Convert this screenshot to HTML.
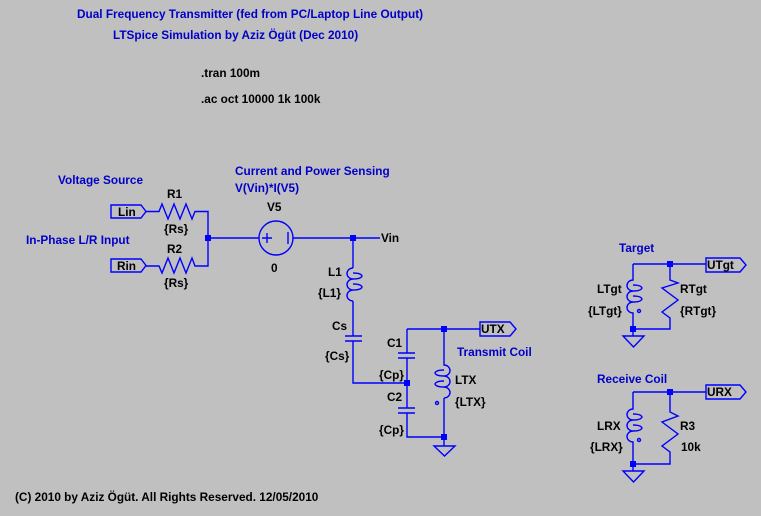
<!DOCTYPE html><html><head><style>body{margin:0;background:#c0c0c0}svg{display:block}text{font-family:"Liberation Sans",sans-serif;font-weight:bold;font-size:11.8px}.b{fill:#0000c8}.k{fill:#000}</style></head><body>
<svg width="761" height="516" viewBox="0 0 761 516">
<rect width="761" height="516" fill="#c0c0c0"/>
<g stroke="#0000ff" stroke-width="1.4" fill="none">
<path d="M111,205H141L146,211.5L141,218H111Z"/>
<path d="M111,259H141L146,265.5L141,272H111Z"/>
<path d="M146,211.5H159L162,204L168,219L174,204L180,219L186,204L192,219L195,211.5H208V266H195L192,258L186,273L180,258L174,273L168,258L162,273L159,266H146"/>
<path d="M208,238H259"/>
<circle cx="276" cy="238" r="17"/>
<path d="M262,238H272M267,233V243M288,232V244"/>
<path d="M293,238H380"/>
<path d="M353,238V268"/>
<path d="M353,268A6,5.5 0 0 0 353,279A6,5.5 0 0 0 353,290A6,5.5 0 0 0 353,301"/>
<path d="M353,273Q361,273 362,276Q361,279 353,279M353,284Q361,284 362,287Q361,290 353,290"/>
<path d="M353,301V336M345,336H362M345,341H362M353,341V383H407"/>
<path d="M407,329V353M398,353H415M398,358H415M407,358V408M398,408H415M398,413H415M407,413V437H444"/>
<path d="M407,329H480M480,322H510L516,329L510,336H480Z"/>
<path d="M444,329V365A6,5.5 0 0 1 444,376A6,5.5 0 0 1 444,387A6,5.5 0 0 1 444,398M444,398V437"/>
<path d="M444,370Q436,370 435,373Q436,376 444,376M444,381Q436,381 435,384Q436,387 444,387"/>
<circle cx="437" cy="403" r="1.5"/>
<path d="M444,437V446M434,446H455L444.5,456Z"/>
<path d="M633,264H706M706,258H740L746,265L740,272H706Z"/>
<path d="M633,264V280A6,5.5 0 0 0 633,291A6,5.5 0 0 0 633,302A6,5.5 0 0 0 633,313V329H670V318L662,312L678,300L662,288L678,283L670,280V264"/>
<path d="M633,285Q641,285 642,288Q641,291 633,291M633,296Q641,296 642,299Q641,302 633,302"/>
<circle cx="639" cy="311" r="1.5"/>
<path d="M633,329V336M623,336H644L633.5,347Z"/>
<path d="M633,392H706M706,385H740L746,392L740,399H706Z"/>
<path d="M633,392V409A6,5.5 0 0 0 633,420A6,5.5 0 0 0 633,431A6,5.5 0 0 0 633,442V464H670V452L662,446L678,434L662,422L678,416L670,412V392"/>
<path d="M633,414Q641,414 642,417Q641,420 633,420M633,425Q641,425 642,428Q641,431 633,431"/>
<circle cx="639" cy="440" r="1.5"/>
<path d="M633,464V471M623,471H644L633.5,482Z"/>
</g>
<g fill="#0000ff">
<rect x="205" y="235" width="6" height="6"/><rect x="350" y="235" width="6" height="6"/>
<rect x="404" y="380" width="6" height="6"/><rect x="441" y="326" width="6" height="6"/><rect x="441" y="434" width="6" height="6"/>
<rect x="667" y="261" width="6" height="6"/><rect x="630" y="326" width="6" height="6"/>
<rect x="667" y="389" width="6" height="6"/><rect x="630" y="461" width="6" height="6"/>
</g>
<text class="b" x="77" y="18">Dual Frequency Transmitter (fed from PC/Laptop Line Output)</text>
<text class="b" x="113" y="39">LTSpice Simulation by Aziz Ögüt (Dec 2010)</text>
<text class="k" x="201" y="77">.tran 100m</text>
<text class="k" x="201" y="103">.ac oct 10000 1k 100k</text>
<text class="b" x="58" y="184">Voltage Source</text>
<text class="b" x="26" y="244">In-Phase L/R Input</text>
<text class="b" x="235" y="175">Current and Power Sensing</text>
<text class="b" x="235" y="192">V(Vin)*I(V5)</text>
<text class="b" x="457" y="356">Transmit Coil</text>
<text class="b" x="619" y="252">Target</text>
<text class="b" x="597" y="383">Receive Coil</text>
<text class="k" x="118" y="216">Lin</text><text class="k" x="117" y="270">Rin</text>
<text class="k" x="167" y="198">R1</text><text class="k" x="164" y="233">{Rs}</text>
<text class="k" x="167" y="253">R2</text><text class="k" x="164" y="287">{Rs}</text>
<text class="k" x="267" y="211">V5</text><text class="k" x="271" y="272">0</text>
<text class="k" x="381" y="242">Vin</text>
<text class="k" x="328" y="276">L1</text><text class="k" x="318" y="297">{L1}</text>
<text class="k" x="332" y="330">Cs</text><text class="k" x="325" y="360">{Cs}</text>
<text class="k" x="387" y="347">C1</text><text class="k" x="379" y="379">{Cp}</text>
<text class="k" x="387" y="401">C2</text><text class="k" x="379" y="434">{Cp}</text>
<text class="k" x="455" y="384">LTX</text><text class="k" x="455" y="406">{LTX}</text>
<text class="k" x="481" y="333">UTX</text>
<text class="k" x="597" y="293">LTgt</text><text class="k" x="588" y="315">{LTgt}</text>
<text class="k" x="680" y="293">RTgt</text><text class="k" x="680" y="315">{RTgt}</text>
<text class="k" x="707" y="269">UTgt</text>
<text class="k" x="597" y="430">LRX</text><text class="k" x="590" y="451">{LRX}</text>
<text class="k" x="680" y="430">R3</text><text class="k" x="681" y="451">10k</text>
<text class="k" x="707" y="396">URX</text>
<text class="k" x="15" y="501">(C) 2010 by Aziz Ögüt. All Rights Reserved. 12/05/2010</text>
</svg></body></html>
